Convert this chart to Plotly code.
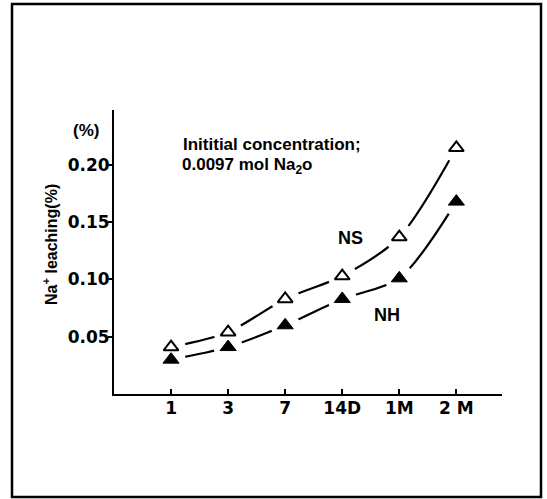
import plotly.graph_objects as go

categories = ["1", "3", "7", "14D", "1M", "2 M"]
positions = [1, 2, 3, 4, 5, 6]
ns_values = [0.041, 0.054, 0.083, 0.103, 0.137, 0.215]
nh_values = [0.030, 0.041, 0.060, 0.083, 0.101, 0.168]
y_ticks = [0.05, 0.10, 0.15, 0.20]
y_tick_labels = ["0.05", "0.10", "0.15", "0.20"]

FONT = "Liberation Sans"
TFONT = "DejaVu Sans"
W, H = 547, 499
L, R, T, B = 114, 45, 110, 105
pw, ph = W - L - R, H - T - B

fig = go.Figure()

for vals in (ns_values, nh_values):
    fig.add_trace(go.Scatter(x=positions, y=vals, mode="lines",
                             line=dict(color="black", width=2.2, shape="spline", smoothing=0.8),
                             hoverinfo="skip", showlegend=False))
# white halos to create gaps around the markers
for vals in (ns_values, nh_values):
    fig.add_trace(go.Scatter(x=positions, y=vals, mode="markers",
                             marker=dict(symbol="circle", size=29, color="white", line=dict(width=0)),
                             hoverinfo="skip", showlegend=False))
fig.add_trace(go.Scatter(x=positions, y=ns_values, mode="markers", name="NS",
                         marker=dict(symbol="triangle-up-open", size=13, color="black",
                                     line=dict(color="black", width=2)),
                         showlegend=False))
fig.add_trace(go.Scatter(x=positions, y=nh_values, mode="markers", name="NH",
                         marker=dict(symbol="triangle-up", size=14, color="black",
                                     line=dict(color="black", width=1)),
                         showlegend=False))

def px(xp):
    return (xp - L) / pw

def py(yp):
    return (H - B - yp) / ph

BOLD = dict(family=FONT, weight="bold")

fig.update_layout(
    width=W, height=H,
    margin=dict(l=L, r=R, t=T, b=B),
    paper_bgcolor="white", plot_bgcolor="white",
    font=dict(family=FONT, color="black", size=16),
    xaxis=dict(range=[0, 6.8], tickvals=positions, ticktext=categories,
               showgrid=False, zeroline=False, showline=True, linecolor="black", linewidth=2,
               ticks="inside", ticklen=5, tickwidth=2, tickcolor="black",
               ticklabelstandoff=-2,
               tickfont=dict(size=17, family=TFONT, weight="bold")),
    yaxis=dict(range=[0, 0.248], tickvals=y_ticks, ticktext=y_tick_labels,
               showgrid=False, zeroline=False, showline=True, linecolor="black", linewidth=2,
               ticks="outside", ticklen=4, tickwidth=2, tickcolor="black",
               ticklabelstandoff=-5,
               tickfont=dict(size=17, family=TFONT, weight="bold")),
    shapes=[dict(type="rect", xref="paper", yref="paper",
                 x0=px(12), x1=px(541), y0=py(497), y1=py(4),
                 line=dict(color="black", width=2.5), fillcolor="rgba(0,0,0,0)")],
    annotations=[
        dict(text="(%)", xref="paper", yref="paper", x=px(86), y=py(130),
             xanchor="center", yanchor="middle",
             showarrow=False, font=dict(size=17, **BOLD)),
        dict(text="Na<sup>+</sup> leaching(%)", xref="paper", yref="paper",
             x=px(50), y=py(245), xanchor="center", yanchor="middle",
             textangle=-90, showarrow=False,
             font=dict(size=16, **BOLD)),
        dict(text="Inititial concentration;", xref="paper", yref="paper",
             x=px(181), y=py(133), xanchor="left", yanchor="top", showarrow=False,
             font=dict(size=17, family=FONT, weight=600)),
        dict(text="0.0097 mol <b>Na</b><sub>2</sub>o", xref="paper", yref="paper",
             x=px(180), y=py(153), xanchor="left", yanchor="top", showarrow=False,
             font=dict(size=17, family=FONT, weight=600)),
        dict(text="NS", xref="paper", yref="paper", x=px(350), y=py(238),
             xanchor="center", yanchor="middle",
             showarrow=False, font=dict(size=18, **BOLD)),
        dict(text="NH", xref="paper", yref="paper", x=px(387), y=py(315),
             xanchor="center", yanchor="middle",
             showarrow=False, font=dict(size=18, **BOLD)),
    ],
)

fig.write_html("out.html")
